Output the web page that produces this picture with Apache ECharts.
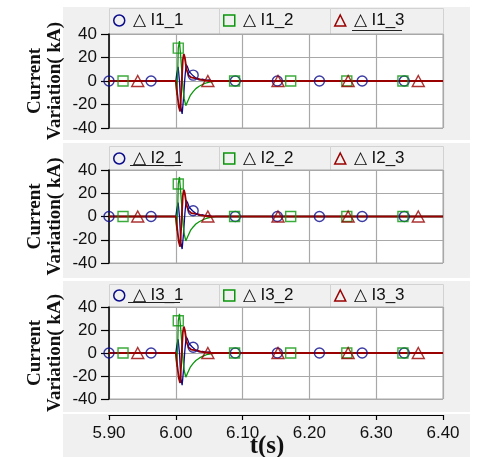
<!DOCTYPE html>
<html>
<head>
<meta charset="utf-8">
<script src="https://cdn.jsdelivr.net/npm/echarts@6/dist/echarts.min.js"></script>
<style>
  html, body { margin: 0; padding: 0; background: #ffffff; }
  #chart { width: 477px; height: 457px; }
</style>
</head>
<body>
<div id="chart"></div>
<script>
// ---- Data (the three panels look identical) ----
const xTicks = [5.90, 6.00, 6.10, 6.20, 6.30, 6.40];
const yTicks = [-40, -20, 0, 20, 40];

// phase 1 (blue) waveform
const t_1 = [5.900, 6.000, 6.0015, 6.0035, 6.0055, 6.0075, 6.0095, 6.0115, 6.0135, 6.0155, 6.0175, 6.020, 6.025, 6.030, 6.035, 6.040, 6.045, 6.050, 6.055, 6.400];
const v_1 = [0, 0, 6, 12, 0, -22, -28, -15, 2, 14, 12, 8, 5, 2.5, 1, 1.5, 0.5, 1, 0, 0];
// phase 2 (green) waveform
const t_2 = [5.900, 6.000, 6.0015, 6.003, 6.0037, 6.0055, 6.0075, 6.010, 6.0125, 6.015, 6.018, 6.022, 6.026, 6.030, 6.035, 6.040, 6.046, 6.052, 6.060, 6.400];
const v_2 = [0, 0, -12, 10, 28, 34, 20, 0, -15, -21, -17, -12, -9, -6.5, -4.5, -3, -1.5, -0.8, 0, 0];
// phase 3 (red) waveform
const t_3 = [5.900, 6.000, 6.002, 6.0045, 6.0065, 6.0085, 6.0105, 6.012, 6.0135, 6.016, 6.019, 6.023, 6.028, 6.033, 6.038, 6.044, 6.050, 6.400];
const v_3 = [0, 0, -10, -22, -26, -5, 18, 23, 20, 10, 5, 3, 2.5, 2, 1, 0.5, 0, 0];

// marker positions
const mt_1 = [5.900, 5.963, 6.026, 6.089, 6.152, 6.215, 6.279, 6.342];
const mv_1 = [0, 0, 5, 0, 0, 0, 0, 0];
const mt_2 = [5.921, 6.0037, 6.088, 6.172, 6.256, 6.340];
const mv_2 = [0, 28, 0, 0, 0, 0];
const mt_3 = [5.943, 6.048, 6.153, 6.258, 6.363];
const mv_3 = [0, 0, 0, 0, 0];

const panelNames = [
  ['I1_1', 'I1_2', 'I1_3'],
  ['I2_1', 'I2_2', 'I2_3'],
  ['I3_1', 'I3_2', 'I3_3']
];
const yName = 'Current\nVariation( kA)';
const xName = 't(s)';

// ---- Styling ----
const colors = ['#0a0a8c', '#0a960a', '#990000'];
const symbols = ['circle', 'rect', 'triangle'];
const symSizes = [10, 10, [12, 11]];
const grids = [
  { top: 34, height: 94 },
  { top: 170, height: 93 },
  { top: 307, height: 92 }
];
const headerTops = [8, 146, 284];
const legendCenters = [20, 158, 295];
const panelRects = [[7, 133], [143, 135], [281, 131]];
const cellX = [109, 219, 330, 443];
const sans = "'Liberation Sans', Arial, sans-serif";
const serif = "'Liberation Serif', 'Times New Roman', serif";

const zip = (a, b) => a.map((x, i) => [x, b[i]]);
const waves = [[t_1, v_1], [t_2, v_2], [t_3, v_3]];
const marks = [[mt_1, mv_1], [mt_2, mv_2], [mt_3, mv_3]];

const option = {
  animation: false,
  backgroundColor: '#ffffff',
  grid: [], xAxis: [], yAxis: [], series: [], legend: [],
  graphic: []
};

// background panels
panelRects.forEach(([y, h]) => {
  option.graphic.push({ type: 'rect', silent: true, z: -10,
    shape: { x: 63, y: y, width: 407, height: h },
    style: { fill: '#f0f0f0' } });
});
option.graphic.push({ type: 'rect', silent: true, z: -10,
  shape: { x: 63, y: 414, width: 407, height: 43 }, style: { fill: '#f0f0f0' } });

grids.forEach((g, p) => {
  // header cells
  for (let c = 0; c < 3; c++) {
    option.graphic.push({ type: 'rect', silent: true, z: -9,
      shape: { x: cellX[c] + 0.5, y: headerTops[p] + 0.5, width: cellX[c + 1] - cellX[c], height: g.top - headerTops[p] },
      style: { fill: '#f0f0f0', stroke: '#d2d2d2', lineWidth: 1 } });
  }
  option.grid.push({ left: 109, width: 334, top: g.top, height: g.height,
    show: true, backgroundColor: '#ffffff', borderColor: '#a8a8a8', borderWidth: 1 });
  option.xAxis.push({
    type: 'value', gridIndex: p, min: 5.9, max: 6.4, interval: 0.1,
    axisLine: { show: false }, axisTick: { show: false }, axisLabel: { show: false },
    splitLine: { show: true, lineStyle: { color: '#a8a8a8', width: 1.2 } }
  });
  option.yAxis.push({
    type: 'value', gridIndex: p, min: -40, max: 40, interval: 20,
    axisLine: { show: true, onZero: false, lineStyle: { color: '#000', width: 1.5 } },
    axisTick: { show: true, length: 8, lineStyle: { color: '#000', width: 1.2 } },
    axisLabel: { fontFamily: sans, fontSize: 17, color: '#111', margin: 12 },
    splitLine: { show: true, lineStyle: { color: '#a8a8a8', width: 1.2 } },
    name: yName, nameLocation: 'middle', nameRotate: 90, nameGap: 44, nameMoveOverlap: false,
    nameTextStyle: { fontFamily: serif, fontWeight: 'bold', fontSize: 19, lineHeight: 20, color: '#111' }
  });
  for (let k = 0; k < 3; k++) {
    const nm = panelNames[p][k];
    option.series.push({
      type: 'line', name: nm, xAxisIndex: p, yAxisIndex: p,
      data: zip(waves[k][0], waves[k][1]), showSymbol: false, symbol: 'none',
      lineStyle: { color: colors[k], width: k === 2 ? 1.8 : 1.3 }, itemStyle: { color: colors[k] }, z: 2 + k * 0.1
    });
  }
  for (let k = 0; k < 3; k++) {
    const nm = panelNames[p][k];
    option.series.push({
      type: 'scatter', name: nm, xAxisIndex: p, yAxisIndex: p,
      data: zip(marks[k][0], marks[k][1]), symbol: symbols[k], symbolSize: symSizes[k],
      itemStyle: { color: 'rgba(0,0,0,0)', borderColor: colors[k], borderWidth: 1.4 }, z: 4
    });
    option.legend.push({
      left: cellX[k] + 4, top: legendCenters[p] - 8, padding: 0,
      itemWidth: 11, itemHeight: 11, itemGap: 0,
      selectedMode: false,
      data: [{ name: nm, icon: symbols[k],
        itemStyle: { color: 'rgba(0,0,0,0)', borderColor: colors[k], borderWidth: 1.5 } }],
      formatter: n => '\u25B3 ' + n,
      textStyle: { fontFamily: sans, fontSize: 17, color: '#111', padding: [0, 0, 0, 3] }
    });
  }
});

// shared time axis below the bottom panel
option.grid.push({ left: 109, width: 334, top: 415, height: 1, show: false });
option.xAxis.push({
  type: 'value', gridIndex: 3, min: 5.9, max: 6.4, interval: 0.1, position: 'top',
  axisLine: { show: true, onZero: false, lineStyle: { color: '#000', width: 1.2 } },
  axisTick: { show: true, inside: true, length: 5, lineStyle: { color: '#000', width: 1.2 } },
  axisLabel: { show: false },
  splitLine: { show: false }
});
option.yAxis.push({ type: 'value', gridIndex: 3, show: false, min: 0, max: 1 });
option.grid.push({ left: 109, width: 334, top: 414, height: 1, show: false });
option.xAxis.push({
  type: 'value', gridIndex: 4, min: 5.9, max: 6.4, interval: 0.1, position: 'bottom',
  axisLine: { show: false }, axisTick: { show: false },
  axisLabel: { fontFamily: sans, fontSize: 17, color: '#111', margin: 11, formatter: v => v.toFixed(2) },
  splitLine: { show: false },
  name: xName, nameLocation: 'middle', nameGap: 20, nameMoveOverlap: false,
  nameTextStyle: { fontFamily: serif, fontWeight: 'bold', fontSize: 25, color: '#111', padding: [0, 18, 0, 0] }
});
option.yAxis.push({ type: 'value', gridIndex: 4, show: false, min: 0, max: 1 });

// underline on focused legend entries
[[352, 402, 30], [130, 181, 165], [128, 180, 302]].forEach(([x1, x2, y]) => {
  option.graphic.push({ type: 'line', silent: true, z: 10,
    shape: { x1: x1, y1: y + 0.5, x2: x2, y2: y + 0.5 }, style: { stroke: '#222', lineWidth: 1 } });
});

const chart = echarts.init(document.getElementById('chart'), null, { renderer: 'canvas' });
chart.setOption(option);
</script>
</body>
</html>
